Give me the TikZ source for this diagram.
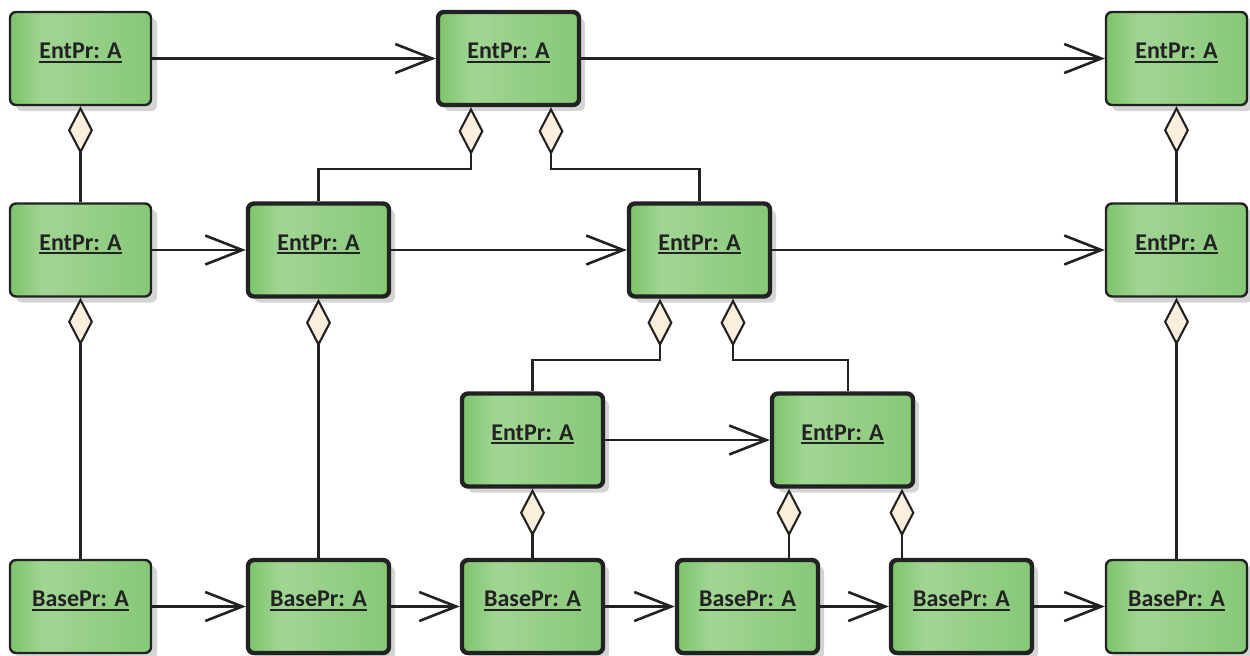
\documentclass[tikz,border=0pt]{standalone}
\usepackage{fontspec}
\setmainfont{Carlito}
\usetikzlibrary{arrows.meta,calc,shadows}
\definecolor{objleft}{RGB}{124,196,106}
\definecolor{objlight}{RGB}{162,213,149}
\definecolor{objright}{RGB}{134,200,118}
\definecolor{aggfill}{RGB}{251,238,220}
\definecolor{ink}{RGB}{34,34,34}
\pgfdeclarehorizontalshading{objshade}{100bp}{color(0bp)=(objleft); color(25bp)=(objleft); color(37bp)=(objlight); color(75bp)=(objright); color(100bp)=(objright)}
\newcommand\objname[1]{\setbox0\hbox{\bfseries #1}\rlap{\rule[-2.1pt]{\wd0}{1.1pt}}\box0}
\begin{document}
\begin{tikzpicture}[x=0.5pt, y=-0.5pt,
            obj/.style={rectangle, rounded corners=3pt, draw=ink, line width=1.2pt,
              shading=objshade, minimum width=70.5pt, minimum height=46.5pt,
              text height=9pt, text depth=9pt, inner sep=0pt, text=ink, font=\fontsize{12}{14}\selectfont,
              general shadow={fill=black!17, shadow xshift=3pt, shadow yshift=-3pt}},
            objthick/.style={obj, line width=2.2pt},
            nav/.style={draw=ink, line width=1.05pt, -{Straight Barb[length=18.5pt,width=14.5pt,line width=1.3pt]}},
            agg/.style={draw=ink, line width=1.05pt, -{Diamond[length=24pt,width=12.5pt,fill=aggfill]}}]
            \useasboundingbox (0,0) rectangle (1250,655);
            \node[obj] (top1) at (80.5,58.5) {\objname{EntPr: A}};
            \node[objthick] (top2) at (508.5,58.5) {\objname{EntPr: A}};
            \node[obj] (top3) at (1176.5,58.5) {\objname{EntPr: A}};
            \node[obj] (mid1) at (80.5,250) {\objname{EntPr: A}};
            \node[objthick] (mid2) at (318.5,250) {\objname{EntPr: A}};
            \node[objthick] (mid3) at (699.5,250) {\objname{EntPr: A}};
            \node[obj] (mid4) at (1176.5,250) {\objname{EntPr: A}};
            \node[objthick] (low1) at (532.5,440) {\objname{EntPr: A}};
            \node[objthick] (low2) at (842.5,440) {\objname{EntPr: A}};
            \node[obj] (base1) at (80.5,606.5) {\objname{BasePr: A}};
            \node[objthick] (base2) at (318.5,606.5) {\objname{BasePr: A}};
            \node[objthick] (base3) at (532.5,606.5) {\objname{BasePr: A}};
            \node[objthick] (base4) at (747.5,606.5) {\objname{BasePr: A}};
            \node[objthick] (base5) at (961.5,606.5) {\objname{BasePr: A}};
            \node[obj] (base6) at (1176.5,606.5) {\objname{BasePr: A}};
            \draw[nav] (top1) -- (top2);
            \draw[nav] (top2) -- (top3);
            \draw[nav] (mid1) -- (mid2);
            \draw[nav] (mid2) -- (mid3);
            \draw[nav] (mid3) -- (mid4);
            \draw[nav] (low1) -- (low2);
            \draw[nav] (base1) -- (base2);
            \draw[nav] (base2) -- (base3);
            \draw[nav] (base3) -- (base4);
            \draw[nav] (base4) -- (base5);
            \draw[nav] (base5) -- (base6);
            \draw[agg] (mid1) -- (top1);
            \draw[agg] (mid4) -- (top3);
            \draw[agg] (mid2.north) -- ++(0,-32) -| ($(top2.south)+(-37.5,0)$);
            \draw[agg] (mid3.north) -- ++(0,-32) -| ($(top2.south)+(42.5,0)$);
            \draw[agg] (base1) -- (mid1);
            \draw[agg] (base2) -- (mid2);
            \draw[agg] (base6) -- (mid4);
            \draw[agg] (low1.north) -- ++(0,-31) -| ($(mid3.south)+(-39.5,0)$);
            \draw[agg] ($(low2.north)+(5.5,0)$) -- ++(0,-31) -| ($(mid3.south)+(33.5,0)$);
            \draw[agg] (base3) -- (low1);
            \draw[agg] ($(base4.north)+(41.5,0)$) -- ($(low2.south)+(-53.5,0)$);
            \draw[agg] ($(base5.north)+(-59.5,0)$) -- ($(low2.south)+(59.5,0)$);
        \end{tikzpicture}
\end{document}
